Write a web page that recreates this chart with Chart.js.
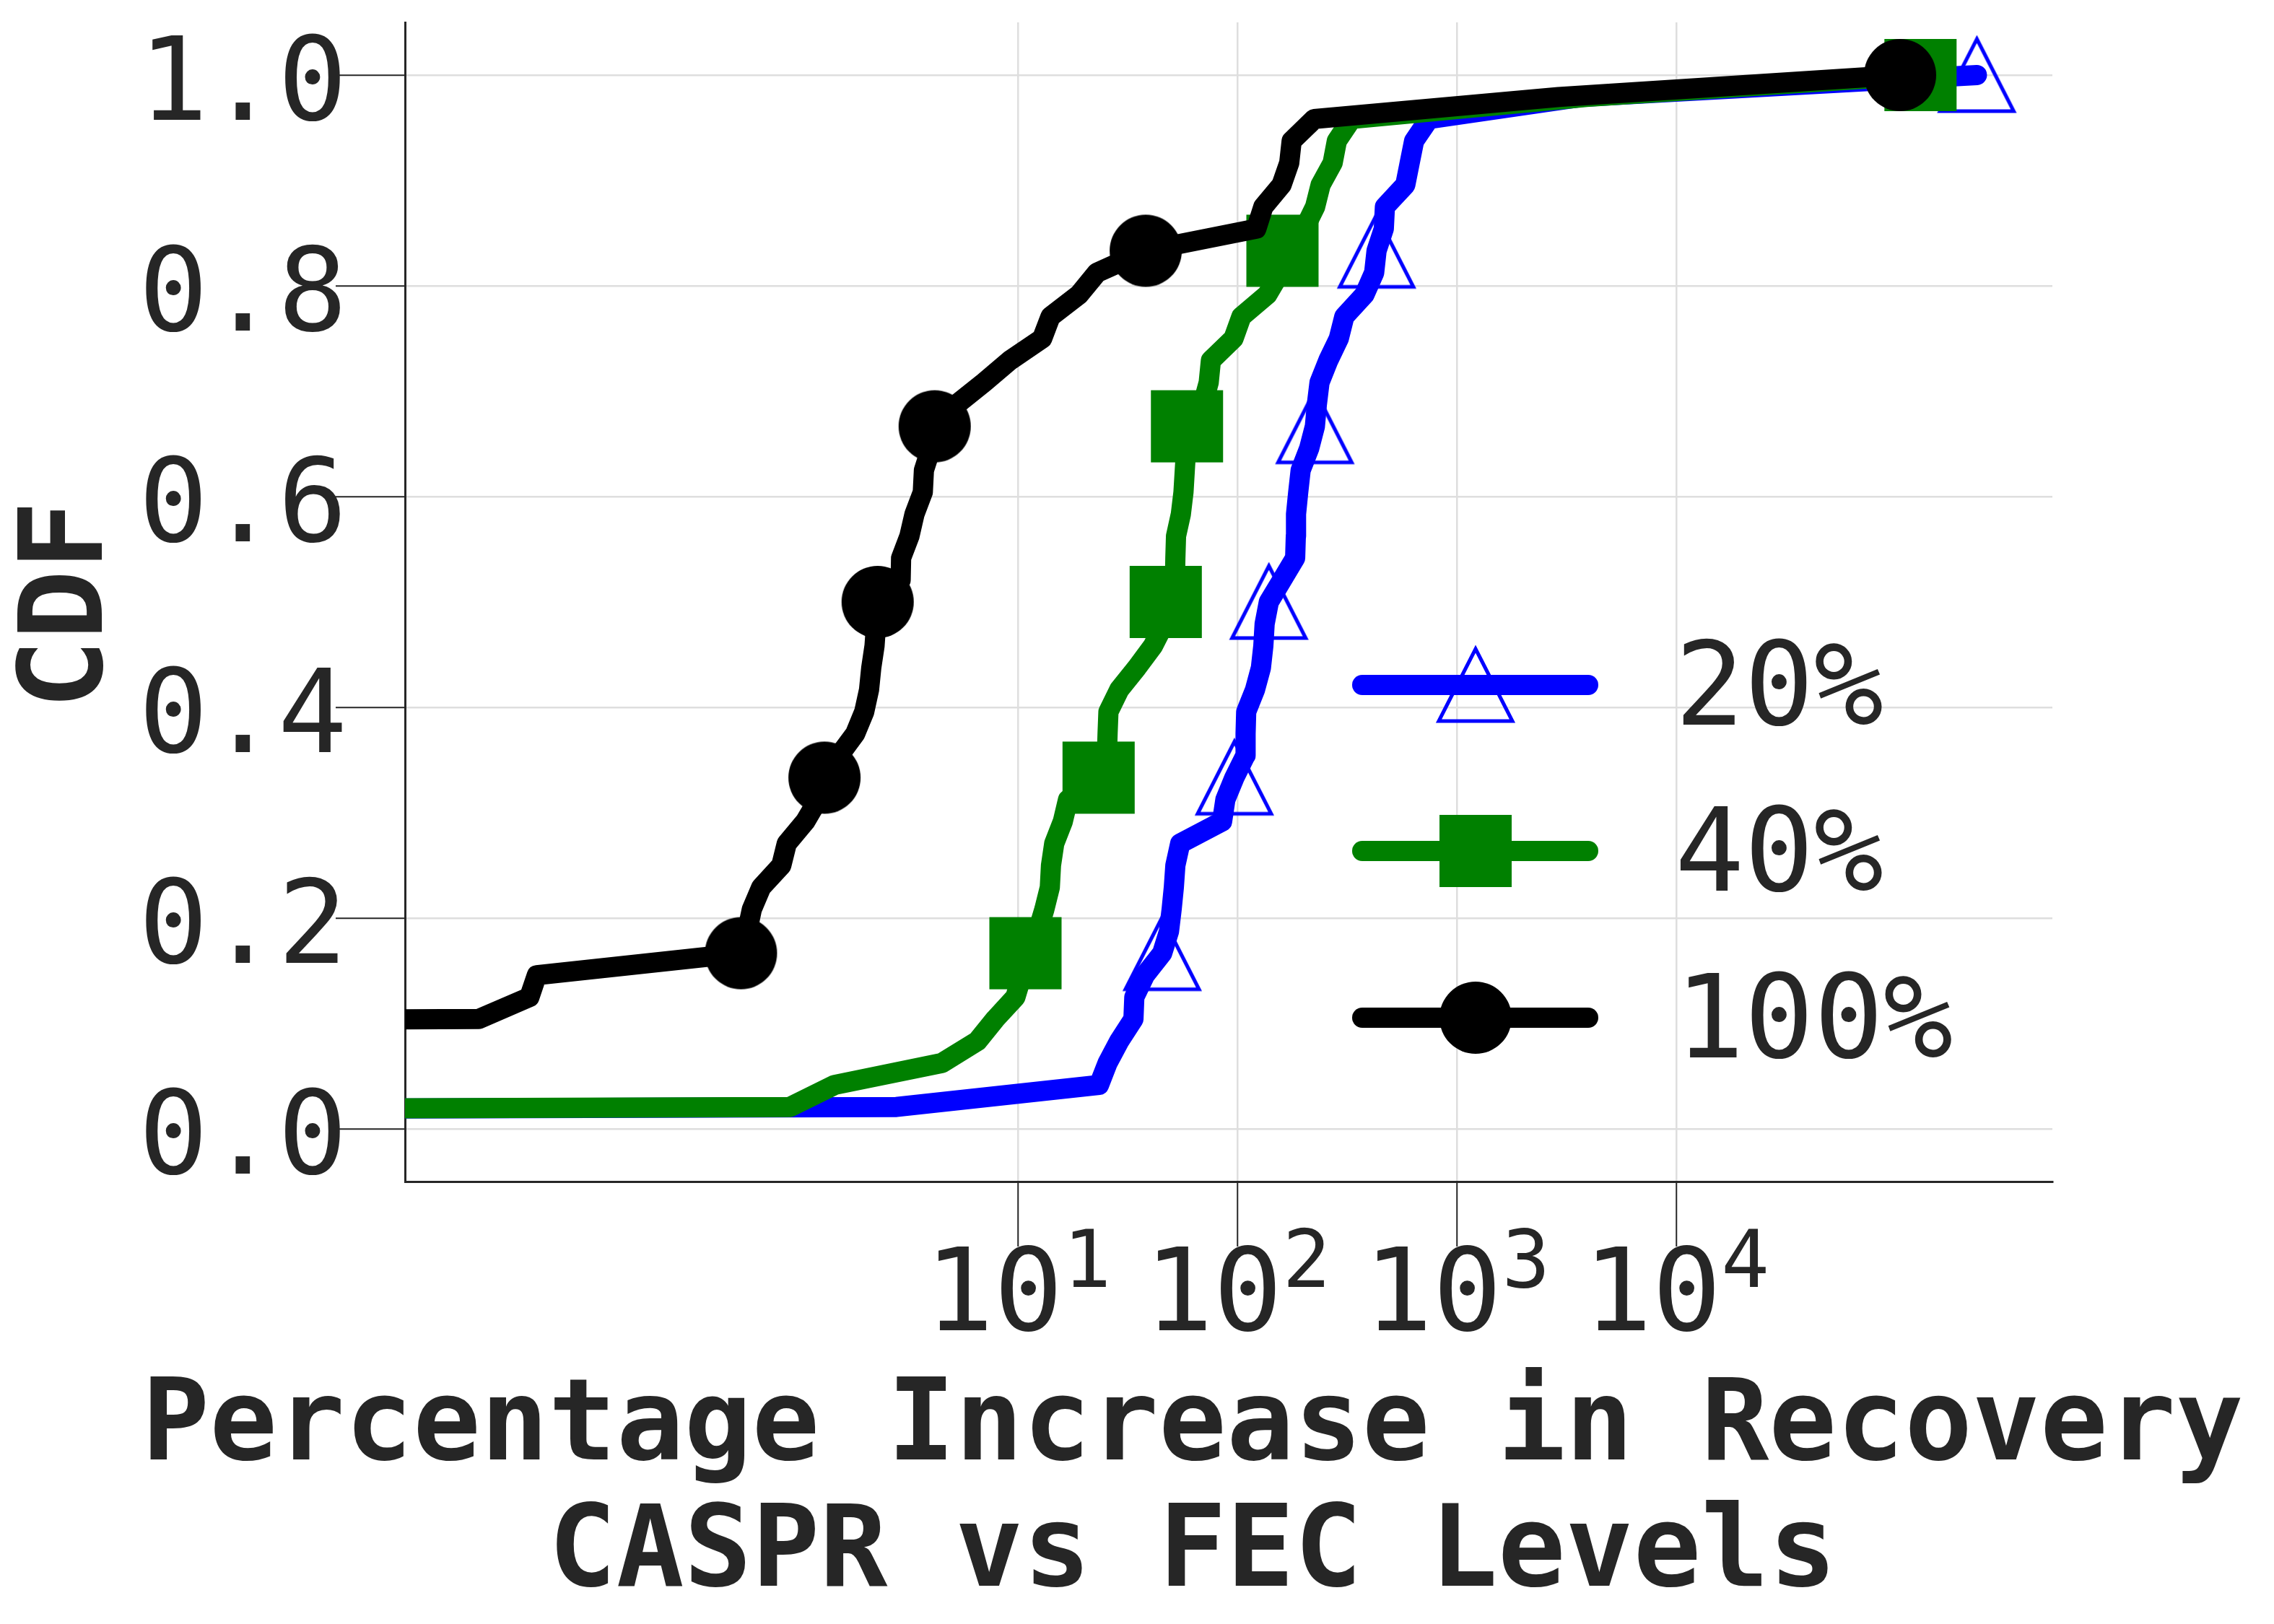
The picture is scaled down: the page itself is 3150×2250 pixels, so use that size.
<!DOCTYPE html>
<html>
<head>
<meta charset="utf-8">
<script src="https://cdn.jsdelivr.net/npm/chart.js@4.4.1/dist/chart.umd.min.js"></script>
<style>
html,body{margin:0;padding:0;background:#ffffff;}
canvas{display:block;}
</style>
</head>
<body>
<canvas id="c" width="3150" height="2250" style="width:3150px;height:2250px"></canvas>
<script>
// ----------------- DATA -----------------
const SERIES_LABELS = ['20%', '40%', '100%'];

// CDF level of each sorted sample (49 samples per series)
const CDF_LEVELS = [
  0, 0.0208, 0.0417, 0.0625, 0.0833, 0.1042, 0.125, 0.1458, 0.1667, 0.1875,
  0.2083, 0.2292, 0.25, 0.2708, 0.2917, 0.3125, 0.3333, 0.3542, 0.375, 0.3958,
  0.4167, 0.4375, 0.4583, 0.4792, 0.5, 0.5208, 0.5417, 0.5625, 0.5833, 0.6042,
  0.625, 0.6458, 0.6667, 0.6875, 0.7083, 0.7292, 0.75, 0.7708, 0.7917, 0.8125,
  0.8333, 0.8542, 0.875, 0.8958, 0.9167, 0.9375, 0.9583, 0.9792, 1.0
];

// Percentage increase in recovery (sorted), 0 = non-positive value (off a log axis)
const X_20 = [
  0, 2.793, 23.39, 25.59, 28.91, 33.57, 33.88, 37.84, 45.39, 48.75,
  50.12, 51.29, 52.12, 54.83, 85.11, 88.10, 96.83, 108.6, 108.9, 109.6,
  120.2, 127.9, 131.2, 133.0, 139.0, 159.6, 183.2, 184.5, 184.9, 189.2,
  194.1, 212.3, 225.4, 230.1, 236.6, 259.4, 289.7, 306.9, 379.3, 419.8,
  430.5, 464.5, 469.9, 582.1, 609.5, 638.3, 746.4, 3673, 234400
];
const X_40 = [
  0, 0.914, 1.459, 4.498, 6.531, 7.870, 9.727, 10.42, 10.81, 12.30,
  13.18, 13.96, 14.13, 14.62, 16.00, 16.90, 23.28, 25.41, 25.59, 25.82,
  28.91, 34.75, 41.21, 46.34, 47.10, 51.88, 52.12, 52.48, 55.21, 56.75,
  57.54, 58.34, 58.88, 69.50, 73.96, 75.68, 95.94, 104.2, 136.8, 156.7,
  160.3, 201.8, 225.9, 239.3, 271.6, 283.8, 331.1, 3890, 129700
];
const X_100 = [
  0, 0, 0, 0, 0, 0.0348, 0.0593, 0.0641, 0.546, 0.583,
  0.612, 0.675, 0.834, 0.883, 1.072, 1.227, 1.312, 1.528, 1.811, 1.991,
  2.094, 2.143, 2.218, 2.254, 2.291, 2.917, 2.931, 3.199, 3.373, 3.681,
  3.724, 4.009, 4.169, 5.248, 6.998, 9.183, 12.88, 14.06, 18.97, 22.91,
  38.19, 121.9, 131.2, 158.9, 172.2, 176.6, 223.9, 2911, 104700
];

const X_TICKS = [10, 100, 1000, 10000];
const X_TICK_BASE = '10';
const X_TICK_EXPONENTS = ['1', '2', '3', '4'];
const Y_TICKS = [0, 0.2, 0.4, 0.6, 0.8, 1.0];
const Y_TICK_LABELS = ['0.0', '0.2', '0.4', '0.6', '0.8', '1.0'];
const X_TITLE_LINES = ['Percentage Increase in Recovery', 'CASPR vs FEC Levels'];
const Y_TITLE = 'CDF';

// ----------------- AXIS LIMITS -----------------
const X_MIN = Math.pow(10, -1.794);
const X_MAX = Math.pow(10, 5.714);
const Y_MIN = -0.05;
const Y_MAX = 1.05;
// non-positive values are clipped far off the left edge, as a log axis does
const NONPOS_CLIP = 1e-30;

// ----------------- STYLE -----------------
const COLORS = ['#0000ff', '#008000', '#000000'];
const MARKERS = ['triangle', 'square', 'circle'];
const TEXT = '#262626';
const GRID = '#dedede';
const FONT = '"DejaVu Sans Mono", monospace';
const LINE_W = 28;
const MARK_EVERY = 8;
const MARK_R = 50;

function markerCanvas(kind, color) {
  const S = 130, m = S / 2;
  const c = document.createElement('canvas');
  c.width = S; c.height = S;
  const g = c.getContext('2d');
  if (kind === 'triangle') {
    g.strokeStyle = color; g.lineWidth = 5; g.lineJoin = 'miter';
    g.beginPath();
    g.moveTo(m, m - 50); g.lineTo(m + 51, m + 50); g.lineTo(m - 51, m + 50);
    g.closePath(); g.stroke();
  } else if (kind === 'square') {
    g.fillStyle = color; g.fillRect(m - 50, m - 50, 100, 100);
  } else {
    g.fillStyle = color; g.beginPath(); g.arc(m, m, 50, 0, Math.PI * 2); g.fill();
  }
  return c;
}

function build() {
  const markerImgs = MARKERS.map((k, i) => markerCanvas(k, COLORS[i]));
  const seriesX = [X_20, X_40, X_100];

  const datasets = seriesX.map((xs, s) => ({
    label: SERIES_LABELS[s],
    data: xs.map((v, i) => ({ x: v > 0 ? v : NONPOS_CLIP, y: CDF_LEVELS[i] })),
    borderColor: COLORS[s],
    backgroundColor: COLORS[s],
    borderWidth: LINE_W,
    borderCapStyle: 'round',
    borderJoinStyle: 'round',
    tension: 0,
    fill: false,
    pointStyle: markerImgs[s],
    pointRadius: (ctx) => (ctx.dataIndex % MARK_EVERY === 0 ? MARK_R : 0),
    pointHoverRadius: 0,
    order: 3 - s,
    clip: { left: 0, top: false, right: false, bottom: false }
  }));

  const decor = {
    id: 'decor',
    afterDraw(chart) {
      const ctx = chart.ctx, xs = chart.scales.x, ys = chart.scales.y, a = chart.chartArea;
      ctx.save();
      ctx.fillStyle = TEXT;
      // y tick labels
      ctx.font = '160px ' + FONT;
      ctx.textAlign = 'right';
      ctx.textBaseline = 'alphabetic';
      Y_TICKS.forEach((v, i) => {
        ctx.fillText(Y_TICK_LABELS[i], a.left - 80, ys.getPixelForValue(v) + 61.5);
      });
      // x tick labels 10^n
      X_TICKS.forEach((v, i) => {
        const px = xs.getPixelForValue(v);
        ctx.font = '159px ' + FONT;
        const wb = ctx.measureText(X_TICK_BASE).width;
        ctx.font = '111px ' + FONT;
        const we = ctx.measureText(X_TICK_EXPONENTS[i]).width;
        const x0 = px - (wb + we) / 2;
        ctx.textAlign = 'left';
        ctx.font = '159px ' + FONT;
        ctx.fillText(X_TICK_BASE, x0, a.bottom + 206);
        ctx.font = '111px ' + FONT;
        ctx.fillText(X_TICK_EXPONENTS[i], x0 + wb, a.bottom + 146);
      });
      // x title
      ctx.font = 'bold 156px ' + FONT;
      ctx.textAlign = 'center';
      ctx.fillText(X_TITLE_LINES[0], 1652, 2022);
      ctx.fillText(X_TITLE_LINES[1], 1652, 2197);
      // y title
      ctx.save();
      ctx.translate(141, 838);
      ctx.rotate(-Math.PI / 2);
      ctx.font = 'bold 160px ' + FONT;
      ctx.textAlign = 'center';
      ctx.fillText(Y_TITLE, 0, 0);
      ctx.restore();
      // legend
      const rows = [949, 1179, 1410];
      rows.forEach((y, i) => {
        ctx.strokeStyle = COLORS[i];
        ctx.lineWidth = LINE_W;
        ctx.lineCap = 'round';
        ctx.beginPath(); ctx.moveTo(1887, y); ctx.lineTo(2200, y); ctx.stroke();
        const im = markerImgs[i];
        ctx.drawImage(im, 2044 - im.width / 2, y - im.height / 2);
        ctx.fillStyle = TEXT;
        ctx.font = '160px ' + FONT;
        ctx.textAlign = 'left';
        ctx.fillText(SERIES_LABELS[i], 2320, y + 55);
      });
      ctx.restore();
    }
  };

  new Chart(document.getElementById('c'), {
    type: 'line',
    data: { datasets },
    options: {
      responsive: false,
      devicePixelRatio: 1,
      animation: false,
      events: [],
      layout: { autoPadding: false, padding: { left: 465, right: 307, top: 31, bottom: 523 } },
      plugins: { legend: { display: false }, tooltip: { enabled: false }, title: { display: false } },
      scales: {
        x: {
          type: 'logarithmic',
          min: X_MIN, max: X_MAX, bounds: 'data',
          afterBuildTicks: (s) => { s.ticks = X_TICKS.map((v) => ({ value: v })); },
          ticks: { display: false },
          title: { display: false },
          grid: { color: GRID, lineWidth: 2.5, drawTicks: true, tickLength: 90, tickColor: TEXT, tickWidth: 2 },
          border: { display: true, color: TEXT, width: 3 }
        },
        y: {
          type: 'linear',
          min: Y_MIN, max: Y_MAX,
          afterBuildTicks: (s) => { s.ticks = Y_TICKS.map((v) => ({ value: v })); },
          ticks: { display: false },
          title: { display: false },
          grid: { color: GRID, lineWidth: 2.5, drawTicks: true, tickLength: 96, tickColor: TEXT, tickWidth: 2 },
          border: { display: true, color: TEXT, width: 3 }
        }
      }
    },
    plugins: [decor]
  });
}

Promise.all([
  document.fonts.load('160px "DejaVu Sans Mono"'),
  document.fonts.load('bold 160px "DejaVu Sans Mono"')
]).catch(() => {}).then(build);
</script>
</body>
</html>
